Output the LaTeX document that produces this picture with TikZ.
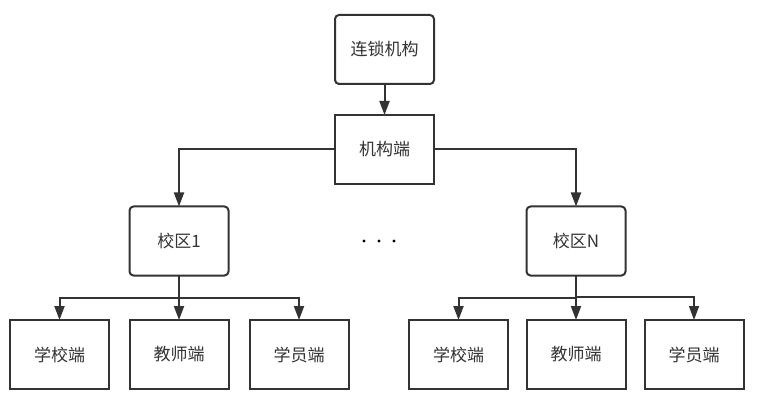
\documentclass[tikz,border=0pt]{standalone}
\usepackage{fontspec}
\newfontfamily\cjk{Noto Sans CJK SC}
\usetikzlibrary{arrows.meta}
\definecolor{ln}{HTML}{333333}
\definecolor{tx}{HTML}{333333}
\begin{document}
\begin{tikzpicture}[x=1pt,y=-1pt,
  box/.style={draw=ln,line width=2pt,minimum width=99pt,minimum height=69pt,
    inner sep=0pt,outer sep=0pt,font=\cjk\fontsize{17}{19}\selectfont,text=tx,fill=white},
  rbox/.style={box,rounded corners=4pt},
  arr/.style={draw=ln,line width=2pt,-{Triangle[length=14pt,width=10pt]}},
  ln2/.style={draw=ln,line width=2pt}]
\fill[white] (0,0) rectangle (757,403);
\useasboundingbox (0,0) rectangle (757,403);
\node[rbox] (top) at (384.5,49.5) {连锁机构};
\node[box] (mid) at (384.5,149.5) {机构端};
\node[rbox] (c1) at (179,241) {校区1};
\node[rbox] (cN) at (576,241) {校区N};
\node[box] (l1) at (59.5,354.5) {学校端};
\node[box] (l2) at (179,354.5) {教师端};
\node[box] (l3) at (299,354.5) {学员端};
\node[box] (r1) at (458.5,354.5) {学校端};
\node[box] (r2) at (576,354.5) {教师端};
\node[box] (r3) at (694,354.5) {学员端};
\draw[arr] (top) -- (mid);
\draw[arr] (mid.west) -| (c1.north);
\draw[arr] (mid.east) -| (cN.north);
\coordinate (b1) at (179,298);
\coordinate (bN) at (576,298);
\coordinate (bN2) at (576,297);
\draw[ln2] (c1.south) -- (b1);
\draw[arr] (b1) -| (l1.north);
\draw[arr] (b1) -| (l3.north);
\draw[arr] (b1) -- (l2.north);
\draw[ln2] (cN.south) -- (bN);
\draw[arr] (bN) -| (r1.north);
\draw[arr] (bN) -- (r2.north);
\draw[arr,line width=1.6pt] (bN2) -| (r3.north);
\foreach \x in {364,379,394} \fill[black] (\x,241) circle (1.6pt);
\end{tikzpicture}
\end{document}
